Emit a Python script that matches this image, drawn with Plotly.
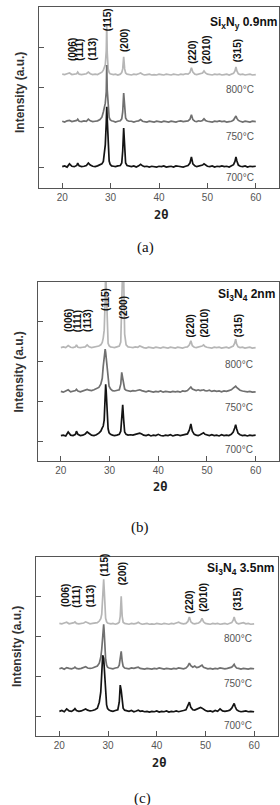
import plotly.graph_objects as go

# ---------------- data ----------------
two_theta = [
    20.0, 20.5, 21.0, 21.5, 22.0, 22.5, 23.0, 23.2, 23.5, 24.0,
    24.5, 25.0, 25.4, 25.8, 26.3, 26.8, 27.3, 27.8, 28.2, 28.5,
    28.7, 28.9, 29.1, 29.2, 29.3, 29.5, 29.7, 29.9, 30.2, 30.6,
    31.0, 31.5, 32.0, 32.3, 32.5, 32.7, 32.9, 33.1, 33.4, 33.8,
    34.3, 34.8, 35.3, 35.8, 36.2, 36.6, 37.0, 37.5, 38.0, 38.5,
    39.0, 39.5, 40.0, 40.5, 41.0, 41.5, 42.0, 42.5, 43.0, 43.5,
    44.0, 44.5, 45.0, 45.5, 46.0, 46.4, 46.7, 47.0, 47.4, 47.8,
    48.2, 48.6, 49.0, 49.3, 49.6, 50.0, 50.5, 51.0, 51.5, 52.0,
    52.5, 53.0, 53.5, 54.0, 54.5, 55.0, 55.4, 55.7, 55.9, 56.1,
    56.4, 56.8, 57.3, 57.8, 58.3, 58.8, 59.3, 60.0,
]

temps = ["700", "750", "800"]

# panel (a) SixNy 0.9nm
a_700 = [
    0.01, 0.03, 0.00, 0.08, 0.02, 0.01, 0.04, 0.10, 0.03, 0.01,
    0.02, 0.04, 0.10, 0.05, 0.02, 0.01, 0.03, 0.05, 0.08, 0.14,
    0.30, 0.55, 1.10, 1.50, 1.20, 0.40, 0.15, 0.07, 0.03, 0.02,
    0.01, 0.03, 0.04, 0.10, 0.40, 0.97, 0.45, 0.10, 0.04, 0.02,
    0.01, 0.03, 0.00, 0.03, 0.07, 0.03, 0.01, 0.02, 0.00, 0.02,
    0.01, 0.00, 0.02, 0.01, 0.03, 0.00, 0.01, 0.02, 0.00, 0.03,
    0.02, 0.01, 0.00, 0.02, 0.04, 0.10, 0.25, 0.08, 0.03, 0.01,
    0.02, 0.03, 0.05, 0.08, 0.05, 0.02, 0.01, 0.03, 0.00, 0.02,
    0.01, 0.03, 0.01, 0.02, 0.00, 0.03, 0.06, 0.14, 0.25, 0.15,
    0.05, 0.02, 0.01, 0.03, 0.00, 0.02, 0.01, 0.02,
]
a_750 = [
    0.02, 0.00, 0.03, 0.04, 0.01, 0.02, 0.04, 0.07, 0.02, 0.01,
    0.03, 0.02, 0.07, 0.03, 0.01, 0.02, 0.03, 0.06, 0.12, 0.25,
    0.40, 0.47, 0.75, 1.42, 0.80, 0.30, 0.12, 0.06, 0.03, 0.02,
    0.00, 0.02, 0.03, 0.08, 0.25, 0.72, 0.30, 0.10, 0.04, 0.02,
    0.02, 0.00, 0.02, 0.03, 0.06, 0.02, 0.01, 0.00, 0.02, 0.01,
    0.00, 0.02, 0.01, 0.00, 0.02, 0.01, 0.00, 0.02, 0.01, 0.00,
    0.02, 0.03, 0.01, 0.02, 0.03, 0.07, 0.18, 0.06, 0.02, 0.01,
    0.03, 0.02, 0.04, 0.08, 0.04, 0.02, 0.01, 0.00, 0.02, 0.01,
    0.03, 0.01, 0.02, 0.00, 0.01, 0.02, 0.05, 0.10, 0.15, 0.09,
    0.04, 0.02, 0.00, 0.02, 0.01, 0.00, 0.02, 0.01,
]
a_800 = [
    0.02, 0.01, 0.03, 0.05, 0.01, 0.02, 0.03, 0.07, 0.02, 0.01,
    0.02, 0.03, 0.07, 0.03, 0.01, 0.02, 0.01, 0.04, 0.07, 0.12,
    0.20, 0.25, 0.60, 1.25, 0.55, 0.15, 0.06, 0.03, 0.02, 0.01,
    0.02, 0.00, 0.02, 0.06, 0.15, 0.45, 0.15, 0.05, 0.02, 0.01,
    0.00, 0.02, 0.01, 0.03, 0.05, 0.02, 0.00, 0.01, 0.02, 0.00,
    0.01, 0.00, 0.02, 0.01, 0.00, 0.02, 0.01, 0.00, 0.02, 0.01,
    0.00, 0.02, 0.01, 0.03, 0.02, 0.06, 0.18, 0.07, 0.02, 0.01,
    0.02, 0.03, 0.05, 0.10, 0.05, 0.02, 0.01, 0.00, 0.02, 0.01,
    0.02, 0.00, 0.01, 0.02, 0.00, 0.02, 0.04, 0.10, 0.20, 0.10,
    0.03, 0.01, 0.02, 0.00, 0.01, 0.02, 0.00, 0.01,
]

# panel (b) Si3N4 2nm
b_700 = [
    0.01, 0.02, 0.00, 0.10, 0.02, 0.01, 0.04, 0.12, 0.04, 0.01,
    0.02, 0.05, 0.10, 0.06, 0.02, 0.01, 0.03, 0.07, 0.12, 0.20,
    0.25, 0.40, 0.85, 1.30, 1.15, 0.50, 0.18, 0.08, 0.04, 0.02,
    0.01, 0.02, 0.04, 0.12, 0.45, 0.78, 0.40, 0.10, 0.04, 0.02,
    0.03, 0.02, 0.04, 0.06, 0.07, 0.05, 0.02, 0.01, 0.03, 0.00,
    0.02, 0.01, 0.04, 0.01, 0.00, 0.02, 0.01, 0.03, 0.00, 0.02,
    0.03, 0.01, 0.02, 0.03, 0.05, 0.15, 0.30, 0.12, 0.04, 0.02,
    0.01, 0.03, 0.05, 0.08, 0.04, 0.02, 0.01, 0.03, 0.01, 0.02,
    0.00, 0.03, 0.01, 0.02, 0.01, 0.04, 0.10, 0.20, 0.28, 0.18,
    0.07, 0.03, 0.01, 0.02, 0.00, 0.02, 0.01, 0.02,
]
b_750 = [
    0.02, 0.00, 0.03, 0.06, 0.01, 0.02, 0.04, 0.07, 0.03, 0.01,
    0.03, 0.04, 0.07, 0.05, 0.04, 0.06, 0.08, 0.12, 0.20, 0.35,
    0.65, 0.95, 1.08, 1.00, 0.85, 0.55, 0.30, 0.15, 0.08, 0.04,
    0.03, 0.04, 0.06, 0.20, 0.50, 0.35, 0.15, 0.08, 0.05, 0.03,
    0.02, 0.04, 0.03, 0.05, 0.06, 0.04, 0.02, 0.01, 0.03, 0.01,
    0.00, 0.02, 0.01, 0.03, 0.00, 0.02, 0.01, 0.00, 0.02, 0.01,
    0.02, 0.00, 0.03, 0.02, 0.04, 0.10, 0.13, 0.08, 0.05, 0.04,
    0.06, 0.04, 0.05, 0.06, 0.04, 0.03, 0.05, 0.02, 0.04, 0.02,
    0.03, 0.01, 0.03, 0.02, 0.04, 0.06, 0.10, 0.14, 0.15, 0.12,
    0.09, 0.05, 0.03, 0.02, 0.01, 0.02, 0.00, 0.01,
]
b_800 = [
    0.01, 0.03, 0.01, 0.06, 0.02, 0.01, 0.03, 0.08, 0.02, 0.01,
    0.02, 0.03, 0.08, 0.03, 0.01, 0.02, 0.03, 0.05, 0.08, 0.14,
    0.25, 0.45, 1.20, 2.10, 1.60, 0.40, 0.12, 0.06, 0.03, 0.02,
    0.01, 0.03, 0.05, 0.15, 1.20, 2.10, 1.80, 0.35, 0.08, 0.03,
    0.02, 0.01, 0.03, 0.02, 0.05, 0.02, 0.01, 0.00, 0.02, 0.01,
    0.00, 0.02, 0.01, 0.00, 0.02, 0.01, 0.00, 0.02, 0.01, 0.00,
    0.02, 0.01, 0.00, 0.02, 0.03, 0.08, 0.18, 0.06, 0.02, 0.01,
    0.02, 0.03, 0.05, 0.08, 0.04, 0.02, 0.01, 0.00, 0.02, 0.01,
    0.02, 0.00, 0.01, 0.02, 0.00, 0.02, 0.05, 0.12, 0.22, 0.10,
    0.03, 0.01, 0.02, 0.00, 0.01, 0.02, 0.00, 0.01,
]

# panel (c) Si3N4 3.5nm
c_700 = [
    0.02, 0.04, 0.01, 0.08, 0.03, 0.02, 0.06, 0.09, 0.04, 0.02,
    0.03, 0.07, 0.08, 0.05, 0.03, 0.04, 0.06, 0.10, 0.25, 0.50,
    0.95, 1.43, 1.35, 1.10, 0.80, 0.40, 0.18, 0.09, 0.05, 0.03,
    0.02, 0.04, 0.06, 0.25, 0.68, 0.55, 0.25, 0.10, 0.05, 0.03,
    0.02, 0.04, 0.01, 0.03, 0.05, 0.02, 0.03, 0.01, 0.02, 0.00,
    0.02, 0.01, 0.03, 0.00, 0.02, 0.01, 0.03, 0.00, 0.02, 0.01,
    0.03, 0.01, 0.02, 0.04, 0.06, 0.18, 0.25, 0.12, 0.06, 0.05,
    0.07, 0.08, 0.12, 0.10, 0.07, 0.04, 0.02, 0.03, 0.01, 0.04,
    0.02, 0.08, 0.03, 0.02, 0.03, 0.05, 0.10, 0.18, 0.22, 0.14,
    0.06, 0.03, 0.01, 0.02, 0.03, 0.01, 0.02, 0.01,
]
c_750 = [
    0.01, 0.03, 0.00, 0.04, 0.02, 0.01, 0.03, 0.05, 0.02, 0.01,
    0.02, 0.04, 0.06, 0.03, 0.02, 0.03, 0.05, 0.08, 0.15, 0.30,
    0.50, 1.00, 1.13, 0.95, 0.60, 0.25, 0.10, 0.05, 0.03, 0.02,
    0.01, 0.03, 0.04, 0.10, 0.30, 0.45, 0.20, 0.07, 0.03, 0.02,
    0.01, 0.03, 0.02, 0.04, 0.05, 0.02, 0.01, 0.00, 0.02, 0.01,
    0.00, 0.02, 0.01, 0.03, 0.01, 0.00, 0.02, 0.01, 0.00, 0.02,
    0.01, 0.03, 0.02, 0.01, 0.03, 0.08, 0.15, 0.09, 0.05, 0.08,
    0.04, 0.05, 0.08, 0.10, 0.05, 0.03, 0.01, 0.02, 0.00, 0.02,
    0.01, 0.03, 0.02, 0.01, 0.02, 0.03, 0.05, 0.09, 0.12, 0.07,
    0.03, 0.02, 0.00, 0.02, 0.01, 0.00, 0.02, 0.01,
]
c_800 = [
    0.02, 0.01, 0.03, 0.05, 0.01, 0.02, 0.04, 0.06, 0.02, 0.01,
    0.02, 0.03, 0.06, 0.03, 0.01, 0.02, 0.03, 0.04, 0.08, 0.14,
    0.25, 0.70, 1.13, 0.90, 0.45, 0.15, 0.06, 0.03, 0.02, 0.01,
    0.02, 0.00, 0.02, 0.05, 0.20, 0.70, 0.20, 0.05, 0.02, 0.01,
    0.00, 0.02, 0.01, 0.02, 0.05, 0.02, 0.00, 0.01, 0.02, 0.00,
    0.01, 0.00, 0.02, 0.01, 0.00, 0.02, 0.01, 0.00, 0.02, 0.01,
    0.03, 0.05, 0.02, 0.01, 0.02, 0.07, 0.18, 0.06, 0.02, 0.01,
    0.02, 0.03, 0.07, 0.15, 0.06, 0.02, 0.01, 0.00, 0.02, 0.01,
    0.02, 0.00, 0.01, 0.02, 0.00, 0.02, 0.04, 0.10, 0.18, 0.09,
    0.03, 0.01, 0.02, 0.04, 0.01, 0.02, 0.00, 0.01,
]

# vertical stacking offsets (a.u.) for 700, 750, 800 in each panel
offsets_a = [0.02, 1.14, 2.31]
offsets_b = [0.13, 1.23, 2.34]
offsets_c = [0.10, 1.18, 2.31]

peak_labels = ["(006)", "(111)", "(113)", "(115)", "(200)", "(220)", "(2010)", "(315)"]
x_ticks = [20, 30, 40, 50, 60]
panel_titles = ["Si<sub>x</sub>N<sub>y</sub> 0.9nm", "Si<sub>3</sub>N<sub>4</sub> 2nm",
                "Si<sub>3</sub>N<sub>4</sub> 3.5nm"]
captions = ["(a)", "(b)", "(c)"]

# ---------------- layout helpers ----------------
W, H = 280, 805
def px_x(p):
    return p / W
def px_y(p):
    return 1 - p / H

colors = {"700": "#141414", "750": "#707070", "800": "#b6b6b6"}
FONT = "Liberation Sans, Arial, sans-serif"

panels = [
    dict(data=[a_700, a_750, a_800], off=offsets_a, box=(39, 7, 279, 188),
         lab_x=[22.0, 23.7, 26.2, 29.4, 32.9, 46.9, 49.7, 56.3],
         lab_y=[2.64, 2.64, 2.64, 3.38, 2.86, 2.56, 2.56, 2.61],
         title_xy=(279, 23), temp_y=[177, 136, 90], temp_x=256,
         ytitle_y=93, xlab_y=200, xtitle_y=215, cap=(145, 247)),
    dict(data=[b_700, b_750, b_800], off=offsets_b, box=(37.5, 282, 279, 461),
         lab_x=[21.7, 23.3, 25.6, 29.3, 32.9, 46.7, 49.6, 56.5],
         lab_y=[2.71, 2.71, 2.71, 3.24, 3.04, 2.59, 2.59, 2.59],
         title_xy=(277, 295), temp_y=[450, 407, 364], temp_x=255,
         ytitle_y=372, xlab_y=473, xtitle_y=487, cap=(140, 527)),
    dict(data=[c_700, c_750, c_800], off=offsets_c, box=(36, 557, 277.5, 736),
         lab_x=[21.4, 23.5, 26.4, 29.3, 33.0, 46.8, 49.7, 56.7],
         lab_y=[2.71, 2.71, 2.71, 3.49, 3.27, 2.56, 2.61, 2.61],
         title_xy=(276, 569), temp_y=[725, 683, 638], temp_x=254,
         ytitle_y=647, xlab_y=748, xtitle_y=763, cap=(142, 798)),
]

fig = go.Figure()
annotations = []
layout_axes = {}

for i, p in enumerate(panels):
    n = "" if i == 0 else str(i + 1)
    xa, ya = "x" + n, "y" + n
    l, t, r, b = p["box"]
    # traces: 800 first, 700 on top
    for k in [2, 1, 0]:
        yv = [v + p["off"][k] for v in p["data"][k]]
        fig.add_trace(go.Scatter(
            x=two_theta, y=yv, mode="lines", xaxis=xa, yaxis=ya,
            line=dict(color=colors[temps[k]], width=1.7), showlegend=False,
            hoverinfo="skip", cliponaxis=True))
    layout_axes["xaxis" + n] = dict(
        domain=[px_x(l), px_x(r)], range=[15.2, 64.8], anchor=ya,
        tickvals=x_ticks, ticktext=[str(v) for v in x_ticks], ticks="inside",
        ticklen=5, tickcolor="#555", showline=True, linecolor="#555",
        linewidth=1.3, mirror=True, showgrid=False, zeroline=False,
        tickfont=dict(family=FONT, size=10, color="#555"), fixedrange=True)
    layout_axes["yaxis" + n] = dict(
        domain=[px_y(b), px_y(t)], range=[-0.5, 4.0], anchor=xa,
        tickvals=[0, 1, 2, 3], showticklabels=False, ticks="inside",
        ticklen=5, tickcolor="#555", showline=True, linecolor="#555",
        linewidth=1.3, mirror=True, showgrid=False, zeroline=False,
        fixedrange=True)
    # peak (hkl) labels
    for lbl, lx, ly in zip(peak_labels, p["lab_x"], p["lab_y"]):
        annotations.append(dict(
            x=lx, y=ly, xref=xa, yref=ya, text="<b>" + lbl + "</b>", textangle=-90,
            showarrow=False, xanchor="center", yanchor="bottom",
            font=dict(family=FONT, size=10, color="#111"), borderpad=0))
    # sample title
    tx, ty = p["title_xy"]
    annotations.append(dict(
        x=px_x(tx), y=px_y(ty), xref="paper", yref="paper", text="<b>" + panel_titles[i] + "</b>",
        showarrow=False, xanchor="right", yanchor="middle",
        font=dict(family=FONT, size=12, color="#111")))
    # temperature labels
    for k in range(3):
        annotations.append(dict(
            x=px_x(p["temp_x"]), y=px_y(p["temp_y"][k]), xref="paper", yref="paper",
            text=temps[k] + "°C", showarrow=False, xanchor="right", yanchor="middle",
            font=dict(family=FONT, size=10, color="#555")))
    # y axis title
    annotations.append(dict(
        x=px_x(l - 19), y=px_y(p["ytitle_y"]), xref="paper", yref="paper",
        text="<b>Intensity (a.u.)</b>", textangle=-90, showarrow=False,
        xanchor="center", yanchor="middle",
        font=dict(family=FONT, size=12, color="#333")))
    # x axis title
    cx = (l + r) / 2 + 2
    annotations.append(dict(
        x=px_x(cx), y=px_y(p["xtitle_y"]), xref="paper", yref="paper",
        text="<b>2θ</b>", showarrow=False, xanchor="center", yanchor="middle",
        font=dict(family="DejaVu Sans Mono, monospace", size=12, color="#222")))
    # caption
    capx, capy = p["cap"]
    annotations.append(dict(
        x=px_x(capx), y=px_y(capy), xref="paper", yref="paper",
        text=captions[i], showarrow=False, xanchor="center", yanchor="middle",
        font=dict(family="Liberation Serif, Times New Roman, serif", size=15, color="#111")))

fig.update_layout(
    width=W, height=H, margin=dict(l=0, r=0, t=0, b=0),
    paper_bgcolor="white", plot_bgcolor="white",
    annotations=annotations, **layout_axes)

fig.write_html("out.html", config={"displayModeBar": False})
